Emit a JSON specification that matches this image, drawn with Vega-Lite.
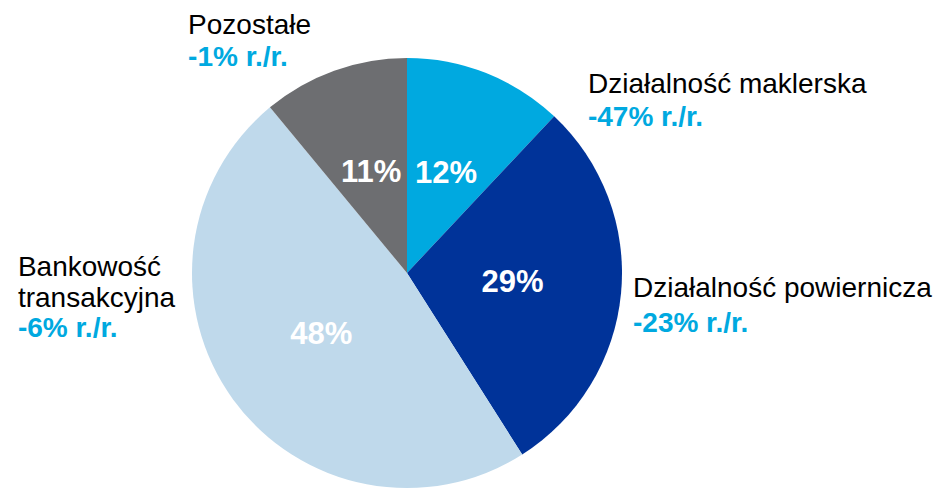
{
  "$schema": "https://vega.github.io/schema/vega-lite/v6.json",
  "width": 814,
  "height": 436,
  "autosize": {"type": "none"},
  "padding": {"left": 0, "top": 55, "right": 123, "bottom": 0},
  "background": "white",
  "config": {"view": {"stroke": null}, "text": {"font": "Liberation Sans"}},
  "data": {
    "values": [
      {"cat": "Działalność maklerska", "value": 0.12, "rank": 1, "name": "Działalność maklerska", "chg": "-47% r./r."},
      {"cat": "Działalność powiernicza", "value": 0.29, "rank": 2, "name": "Działalność powiernicza", "chg": "-23% r./r."},
      {"cat": "Bankowość transakcyjna", "value": 0.48, "rank": 3, "name": "Bankowość\ntransakcyjna", "chg": "-6% r./r."},
      {"cat": "Pozostałe", "value": 0.11, "rank": 4, "name": "Pozostałe", "chg": "-1% r./r."}
    ]
  },
  "encoding": {
    "theta": {"field": "value", "type": "quantitative", "stack": true},
    "order": {"field": "rank", "type": "quantitative", "sort": "ascending"}
  },
  "layer": [
    {
      "mark": {"type": "arc", "outerRadius": 215},
      "encoding": {
        "color": {
          "field": "cat", "type": "nominal", "legend": null,
          "scale": {
            "domain": ["Działalność maklerska", "Działalność powiernicza", "Bankowość transakcyjna", "Pozostałe"],
            "range": ["#00A9E0", "#003399", "#BFD9EB", "#6D6E71"]
          }
        }
      }
    },
    {
      "mark": {"type": "text", "radius": 106, "fontSize": 31, "fontWeight": "bold", "fill": "white", "baseline": "middle", "align": "center"},
      "encoding": {
        "detail": {"field": "cat", "type": "nominal"},
        "text": {"field": "value", "type": "quantitative", "format": ".0%"}
      }
    },
    {
      "mark": {"type": "text", "radius": 230, "align": "left", "baseline": "alphabetic", "dx": -141, "dy": -22.6, "fontSize": 28, "fill": "#000000", "lineBreak": "\n", "lineHeight": 31},
      "encoding": {
        "detail": {"field": "cat", "type": "nominal"},
        "text": {"condition": {"test": "datum.cat === 'Pozostałe'", "field": "name", "type": "nominal"}, "value": ""}
      }
    },
    {
      "mark": {"type": "text", "radius": 230, "align": "left", "baseline": "alphabetic", "dx": -141, "dy": 9.4, "fontSize": 28, "fontWeight": "bold", "fill": "#00A9E0"},
      "encoding": {
        "detail": {"field": "cat", "type": "nominal"},
        "text": {"condition": {"test": "datum.cat === 'Pozostałe'", "field": "chg", "type": "nominal"}, "value": ""}
      }
    },
    {
      "mark": {"type": "text", "radius": 230, "align": "left", "baseline": "alphabetic", "dx": 96.3, "dy": 34, "fontSize": 28, "fill": "#000000", "lineBreak": "\n", "lineHeight": 31},
      "encoding": {
        "detail": {"field": "cat", "type": "nominal"},
        "text": {"condition": {"test": "datum.cat === 'Działalność maklerska'", "field": "name", "type": "nominal"}, "value": ""}
      }
    },
    {
      "mark": {"type": "text", "radius": 230, "align": "left", "baseline": "alphabetic", "dx": 96.3, "dy": 67, "fontSize": 28, "fontWeight": "bold", "fill": "#00A9E0"},
      "encoding": {
        "detail": {"field": "cat", "type": "nominal"},
        "text": {"condition": {"test": "datum.cat === 'Działalność maklerska'", "field": "chg", "type": "nominal"}, "value": ""}
      }
    },
    {
      "mark": {"type": "text", "radius": 230, "align": "left", "baseline": "alphabetic", "dx": -203, "dy": -132, "fontSize": 28, "fill": "#000000", "lineBreak": "\n", "lineHeight": 31},
      "encoding": {
        "detail": {"field": "cat", "type": "nominal"},
        "text": {"condition": {"test": "datum.cat === 'Bankowość transakcyjna'", "field": "name", "type": "nominal"}, "value": ""}
      }
    },
    {
      "mark": {"type": "text", "radius": 230, "align": "left", "baseline": "alphabetic", "dx": -203, "dy": -71, "fontSize": 28, "fontWeight": "bold", "fill": "#00A9E0"},
      "encoding": {
        "detail": {"field": "cat", "type": "nominal"},
        "text": {"condition": {"test": "datum.cat === 'Bankowość transakcyjna'", "field": "chg", "type": "nominal"}, "value": ""}
      }
    },
    {
      "mark": {"type": "text", "radius": 230, "align": "left", "baseline": "alphabetic", "dx": -3, "dy": 2.4, "fontSize": 28, "fill": "#000000", "lineBreak": "\n", "lineHeight": 31},
      "encoding": {
        "detail": {"field": "cat", "type": "nominal"},
        "text": {"condition": {"test": "datum.cat === 'Działalność powiernicza'", "field": "name", "type": "nominal"}, "value": ""}
      }
    },
    {
      "mark": {"type": "text", "radius": 230, "align": "left", "baseline": "alphabetic", "dx": -3, "dy": 37.4, "fontSize": 28, "fontWeight": "bold", "fill": "#00A9E0"},
      "encoding": {
        "detail": {"field": "cat", "type": "nominal"},
        "text": {"condition": {"test": "datum.cat === 'Działalność powiernicza'", "field": "chg", "type": "nominal"}, "value": ""}
      }
    }
  ]
}
